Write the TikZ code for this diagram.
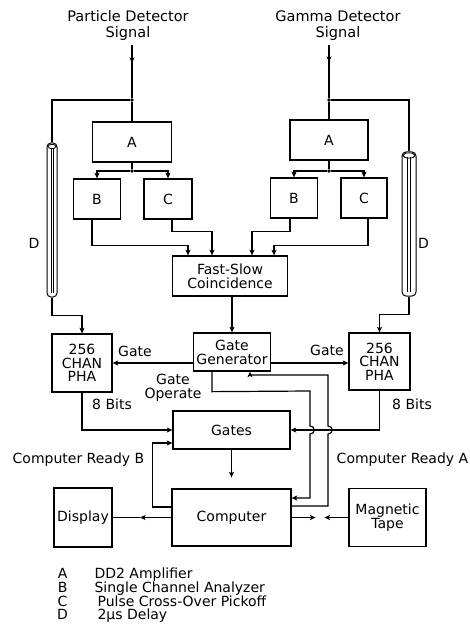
\documentclass[tikz,border=0pt]{standalone}
\usepackage{fontspec}
\setmainfont{DejaVu Sans}
\usetikzlibrary{arrows.meta}
\begin{document}
\begin{tikzpicture}[x=1pt,y=-1pt,line width=1.2pt,
  every node/.style={font=\fontsize{14}{14}\selectfont},
  box/.style={draw,line width=1.3pt,inner sep=0pt,align=center},
  lbl/.style={inner sep=0pt,align=center},
  leg/.style={inner sep=0pt,font=\fontsize{14}{11.2}\selectfont},
  arr/.style={-{Stealth[length=5.5pt,width=5pt,inset=1.2pt]}},
  dot/.style={circle,fill,inner sep=0pt,minimum size=3.6pt},
  tube/.style={draw,line width=1pt,rounded corners=4pt,inner sep=0pt}]
\useasboundingbox (0,0) rectangle (469,639);

% titles and inputs
\node[lbl,font=\fontsize{14.5}{15.6}\selectfont] (tL) at (128,25.7) {Particle Detector\\Signal};
\node[lbl,font=\fontsize{14.5}{15.6}\selectfont] (tR) at (338,25.7) {Gamma Detector\\Signal};
\node[dot] (jL) at (132,100) {};
\node[dot] (jR) at (329,100) {};
\coordinate (sL) at (132,45); \coordinate (aL) at (132,63);
\coordinate (sR) at (329,45); \coordinate (aR) at (329,62);
\draw (sL) -- (jL); \draw[arr] (sL) -- (aL);
\draw (sR) -- (jR); \draw[arr] (sR) -- (aR);

% A, B, C boxes
\node[box,minimum width=79pt,minimum height=40pt] (AL) at (132,142) {A};
\node[box,minimum width=78pt,minimum height=40pt] (AR) at (329,140) {A};
\node[dot] (dL) at (132,171) {};
\node[dot] (dR) at (329,171) {};
\node[box,minimum width=47pt,minimum height=40pt] (BL) at (97,199) {B};
\node[box,minimum width=48pt,minimum height=40pt] (CL) at (168,199) {C};
\node[box,minimum width=47pt,minimum height=40pt] (BR) at (294,198) {B};
\node[box,minimum width=46pt,minimum height=40pt] (CR) at (364,198) {C};
\draw (jL) -- (AL.north); \draw (AL.south) -- (dL);
\draw (jR) -- (AR.north); \draw (AR.south) -- (dR);
\draw[arr] (dL) -| (BL.north); \draw[arr] (dL) -| (CL.north);
\draw[arr] (dR) -| (BR.north); \draw[arr] (dR) -| (CR.north);

% coincidence
\node[box,minimum width=115pt,minimum height=40pt] (FS) at (230,276) {Fast-Slow\\Coincidence};
\draw[arr] ([xshift=-5pt]BL.south) |- ([xshift=-42pt,yshift=10pt]FS.north) -- ([xshift=-42pt]FS.north);
\draw[arr] ([xshift=4pt]CL.south) |- ([xshift=-18pt,yshift=24pt]FS.north) -- ([xshift=-18pt]FS.north);
\draw[arr] ([xshift=-4pt]BR.south) |- ([xshift=22pt,yshift=24pt]FS.north) -- ([xshift=22pt]FS.north);
\draw[arr] ([xshift=4pt]CR.south) |- ([xshift=44pt,yshift=10pt]FS.north) -- ([xshift=44pt]FS.north);

% delay tubes
\node[tube,minimum width=10pt,minimum height=154pt] (tubeL) at (52,220) {};
\node[tube,minimum width=14pt,minimum height=144pt] (tubeR) at (409,224) {};
\draw[line width=0.7pt] (51,148) -- (51,293) (53.5,148) -- (53.5,293);
\draw[line width=0.8pt] (52,146.5) ellipse [x radius=4, y radius=2.2];
\draw[line width=0.7pt] (407.5,157) -- (407.5,292) (410.5,157) -- (410.5,292);
\draw[line width=0.8pt] (409,155.5) ellipse [x radius=6, y radius=2.6];
\draw (jL) -| (tubeL.north);
\draw (jR) -| (tubeR.north);
\node[lbl,anchor=base] (DlL) at (34,248) {D};
\node[lbl,anchor=base] (DlR) at (423.5,248) {D};

% PHAs and gate generator
\node[box,minimum width=60pt,minimum height=58pt,font=\fontsize{14}{13.5}\selectfont] (PHAL) at (82,363) {256\\CHAN\\PHA};
\node[box,minimum width=61pt,minimum height=57pt,font=\fontsize{14}{13.5}\selectfont] (PHAR) at (379.5,361.5) {256\\CHAN\\PHA};
\node[box,minimum width=77pt,minimum height=38pt] (GG) at (232,352) {Gate\\Generator};
\draw[arr] (tubeL.south) -- ++(0,18) -| (PHAL.north);
\draw[arr] (tubeR.south) -- ++(0,18) -| (PHAR.north);
\draw[arr] (FS.south -| GG.north) -- (GG.north);
\coordinate (gl) at ([yshift=-11pt]GG.west);
\coordinate (gr) at ([yshift=-11pt]GG.east);
\draw[arr] (gl) -- (gl -| PHAL.east);
\draw[arr] (gr) -- (gr -| PHAR.west);
\node[lbl,anchor=base] (gateL) at (135,356) {Gate};
\node[lbl,anchor=base] (gateR) at (327,355) {Gate};
\node[lbl] (gop) at (173,387.5) {Gate\\Operate};
\node[lbl,anchor=base] (bitsL) at (112,409) {8 Bits};
\node[lbl,anchor=base] (bitsR) at (412,409) {8 Bits};

% gates, computer, peripherals
\node[box,minimum width=117pt,minimum height=38pt] (Gates) at (231.5,430) {Gates};
\node[box,minimum width=119pt,minimum height=57pt] (Comp) at (231.5,517.5) {Computer};
\node[box,minimum width=58pt,minimum height=59pt] (Disp) at (83,517.5) {Display};
\node[box,minimum width=77pt,minimum height=58pt,font=\fontsize{14}{13}\selectfont] (Tape) at (387.5,517.5) {Magnetic\\Tape};
\node[lbl,anchor=base] (crB) at (78.5,463) {Computer Ready B};
\node[lbl,anchor=base] (crA) at (402.5,463) {Computer Ready A};

\draw[arr] (PHAL.south) |- (Gates.west);
\draw[arr] (PHAR.south) |- (Gates.east);
\draw[arr] ([xshift=-20pt]GG.south) -- ++(0,20) -- (310,391) -- (310,426)
  to[out=0,in=0,looseness=1.8] (310,434) -- (310,498) -- ([yshift=19.5pt]Comp.east);
\draw[arr] ([yshift=11.5pt]Comp.east) -- (328,506) -- (328,434)
  to[out=0,in=0,looseness=1.8] (328,426) -- (328,375) -- (250,375) -- ([xshift=18pt]GG.south);
\coordinate (gc) at ([yshift=11pt]Comp.north);
\draw[arr] (Gates.south) -- (Gates.south |- gc);
\draw[arr] ([yshift=10.5pt]Comp.west) -- ++(-19,0) |- ([yshift=-13pt]Gates.west);
\coordinate (dm) at (140,517.5);
\draw[arr] (Comp.west) -- (dm);
\draw (dm) -- (Disp.east);
\draw[arr] (Comp.east) -- ++(24,0);
\draw[arr] (Tape.west) -- ++(-24,0);

% legend
\node[leg,anchor=base west] (legend) at (56.6,578) {%
  \begin{tabular}[t]{@{}c@{\hspace{26.6pt}}l@{}}
  A & DD2 Amplifier\\
  B & Single Channel Analyzer\\
  C & \hspace{3pt}Pulse Cross-Over Pickoff\\
  D & \hspace{3pt}2μs Delay
  \end{tabular}};
\end{tikzpicture}
\end{document}
